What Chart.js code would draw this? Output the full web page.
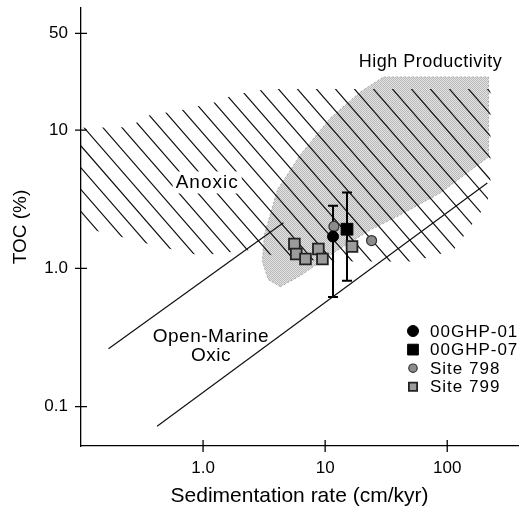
<!DOCTYPE html>
<html>
<head>
<meta charset="utf-8">
<script src="https://cdn.jsdelivr.net/npm/chart.js@4.4.1/dist/chart.umd.min.js"></script>
<style>
  html, body { margin: 0; padding: 0; background: #fff; }
  #wrap { width: 520px; height: 510px; }
</style>
</head>
<body>
<div id="wrap"><canvas id="tocChart" width="520" height="510"></canvas></div>
<script>
// Axis ticks
const xTicks = [1, 10, 100];
const xTickLabels = ["1.0", "10", "100"];
const yTicks = [0.1, 1, 10, 50];
const yTickLabels = ["0.1", "1.0", "10", "50"];

// Samples: sedimentation rate (cm/kyr) vs TOC (%)
const ghp01 = [{ x: 11.6, y: 1.7 }];
const ghp07 = [{ x: 15.1, y: 1.92 }];
const site798 = [{ x: 11.8, y: 2.01 }, { x: 24, y: 1.59 }];
const site799 = [
  { x: 5.6, y: 1.5 },
  { x: 5.8, y: 1.27 },
  { x: 6.9, y: 1.17 },
  { x: 8.8, y: 1.38 },
  { x: 9.5, y: 1.17 },
  { x: 16.6, y: 1.44 },
];

// TOC ranges [rate, low, high]
const ghp01Range = [[11.6, 0.62, 2.84]];
const ghp07Range = [[15.1, 0.815, 3.54]];

// Field boundaries [rate, TOC]
const oxicUpper = [{ x: 0.168, y: 0.262 }, { x: 4.55, y: 2.14 }];
const oxicLower = [{ x: 0.42, y: 0.0723 }, { x: 213, y: 4.14 }];
const anoxicField = [
  [0.1, 10.4], [0.244, 10.5], [0.384, 13.1], [0.571, 13.5], [1.39, 16.2],
  [1.74, 17.9], [3.37, 19.8], [226, 19.8], [226, 4.36], [214, 2.98],
  [113, 1.36], [53, 1.12], [11, 1.12], [4.56, 1.19], [2.44, 1.36],
  [0.95, 1.24], [0.407, 1.46], [0.158, 1.81], [0.1, 1.97],
];
const productivityField = [
  [4.3, 0.738], [3.43, 0.829], [3.06, 1.12], [3.18, 1.75], [4.06, 3.7],
  [6.27, 6.62], [11, 12.2], [19.5, 18.9], [30, 24.2], [218, 24.2],
  [218, 6.4], [88.1, 3.52], [41.4, 2.44], [23.5, 1.9], [11.7, 1.3],
  [6.27, 0.886],
];

// Field names and where they sit [rate, TOC]
const fieldLabels = [
  { text: "High Productivity", at: [73, 31.2], box: false },
  { text: "Anoxic", at: [1.08, 4.18], box: true },
  { text: "Open-Marine", at: [1.16, 0.323], box: false },
  { text: "Oxic", at: [1.16, 0.234], box: false },
];

const FONT = '"Liberation Sans", Arial, sans-serif';

function toPx(chart, p) {
  return [chart.scales.x.getPixelForValue(p[0]), chart.scales.y.getPixelForValue(p[1])];
}

function tracePolygon(chart, pts) {
  const ctx = chart.ctx;
  ctx.beginPath();
  pts.forEach((p, i) => {
    const [px, py] = toPx(chart, p);
    if (i === 0) ctx.moveTo(px, py);
    else ctx.lineTo(px, py);
  });
  ctx.closePath();
}

// fine checker, reads as a flat stippled grey
function stipple(ctx, dark, light) {
  const c = document.createElement("canvas");
  c.width = 2;
  c.height = 2;
  const p = c.getContext("2d");
  p.fillStyle = light;
  p.fillRect(0, 0, 2, 2);
  p.fillStyle = dark;
  p.fillRect(0, 0, 1, 1);
  p.fillRect(1, 1, 1, 1);
  return ctx.createPattern(c, "repeat");
}

function drawRanges(chart, ranges) {
  const ctx = chart.ctx;
  ranges.forEach((r) => {
    const [px, top] = toPx(chart, [r[0], r[2]]);
    const bottom = chart.scales.y.getPixelForValue(r[1]);
    ctx.beginPath();
    ctx.moveTo(px, top);
    ctx.lineTo(px, bottom);
    ctx.moveTo(px - 5, top);
    ctx.lineTo(px + 5, top);
    ctx.moveTo(px - 5, bottom);
    ctx.lineTo(px + 5, bottom);
    ctx.stroke();
  });
}

const fieldsPlugin = {
  id: "fields",
  beforeDatasetsDraw(chart) {
    const ctx = chart.ctx;
    const area = chart.chartArea;

    // High productivity field: stippled grey with dotted outline
    ctx.save();
    tracePolygon(chart, productivityField);
    ctx.fillStyle = stipple(ctx, "#bababa", "#e2e2e2");
    ctx.fill();
    ctx.setLineDash([2, 2]);
    ctx.strokeStyle = "#a8a8a8";
    ctx.lineWidth = 1;
    ctx.stroke();
    ctx.restore();

    // Anoxic field: diagonal hatch
    ctx.save();
    tracePolygon(chart, anoxicField);
    ctx.clip();
    ctx.strokeStyle = "#111";
    ctx.lineWidth = 1.2;
    ctx.beginPath();
    const run = area.bottom - area.top;
    for (let x0 = area.left - 500; x0 < area.right; x0 += 19) {
      ctx.moveTo(x0, area.top);
      ctx.lineTo(x0 + run / 1.15, area.bottom);
    }
    ctx.stroke();
    ctx.restore();

    // field names
    ctx.save();
    ctx.fillStyle = "#000";
    ctx.textAlign = "center";
    ctx.textBaseline = "middle";
    fieldLabels.forEach((l) => {
      const [px, py] = toPx(chart, l.at);
      ctx.font = l.text === "High Productivity" ? "18px " + FONT : "19px " + FONT;
      ctx.letterSpacing = l.text === "Anoxic" ? "1px" : "0.5px";
      if (l.box) {
        const w = ctx.measureText(l.text).width;
        ctx.fillStyle = "#fff";
        ctx.fillRect(px - w / 2 - 3, py - 11, w + 6, 22);
        ctx.fillStyle = "#000";
      }
      ctx.fillText(l.text, px, py);
    });
    ctx.restore();

    // TOC ranges
    ctx.save();
    ctx.strokeStyle = "#000";
    ctx.lineWidth = 2;
    drawRanges(chart, ghp01Range);
    drawRanges(chart, ghp07Range);
    ctx.restore();
  },
  afterDraw(chart) {
    const ctx = chart.ctx;
    const area = chart.chartArea;
    // crossing tick marks
    ctx.save();
    ctx.strokeStyle = "#000";
    ctx.lineWidth = 1.3;
    ctx.beginPath();
    xTicks.forEach((v) => {
      const px = chart.scales.x.getPixelForValue(v);
      ctx.moveTo(px, area.bottom - 6);
      ctx.lineTo(px, area.bottom + 6);
    });
    yTicks.forEach((v) => {
      const py = chart.scales.y.getPixelForValue(v);
      ctx.moveTo(area.left - 6, py);
      ctx.lineTo(area.left + 6, py);
    });
    ctx.stroke();

    // legend
    const rows = chart.data.datasets.filter((d) => d.legendRadius);
    ctx.font = "17px " + FONT;
    ctx.letterSpacing = "1px";
    ctx.textAlign = "left";
    ctx.textBaseline = "middle";
    rows.forEach((d, i) => {
      const y = 331 + i * 18.6;
      ctx.fillStyle = d.backgroundColor;
      ctx.strokeStyle = d.borderColor;
      ctx.lineWidth = d.borderWidth;
      Chart.helpers.drawPoint(ctx, {
        pointStyle: d.pointStyle,
        radius: d.legendRadius,
        borderWidth: d.borderWidth,
        rotation: 0,
      }, 413, y);
      ctx.fillStyle = "#000";
      ctx.fillText(d.label, 430, y + 1);
    });
    ctx.restore();
  },
};

new Chart(document.getElementById("tocChart"), {
  type: "scatter",
  data: {
    datasets: [
      {
        label: "00GHP-01",
        data: ghp01,
        pointStyle: "circle",
        pointRadius: 5.5,
        legendRadius: 5.5,
        backgroundColor: "#000",
        borderColor: "#000",
        borderWidth: 1,
        order: 1,
      },
      {
        label: "00GHP-07",
        data: ghp07,
        pointStyle: "rect",
        pointRadius: 8.3,
        legendRadius: 7.6,
        backgroundColor: "#000",
        borderColor: "#000",
        borderWidth: 1,
        order: 2,
      },
      {
        label: "Site 798",
        data: site798,
        pointStyle: "circle",
        pointRadius: 5,
        legendRadius: 4.2,
        backgroundColor: "#8c8c8c",
        borderColor: "#333",
        borderWidth: 1.2,
        order: 3,
      },
      {
        label: "Site 799",
        data: site799,
        pointStyle: "rect",
        pointRadius: 7.6,
        legendRadius: 5.8,
        backgroundColor: "#9c9c9c",
        borderColor: "#222",
        borderWidth: 1.8,
        order: 4,
      },
      {
        label: "oxic upper",
        data: oxicUpper,
        showLine: true,
        pointRadius: 0,
        borderColor: "#111",
        borderWidth: 1.2,
        order: 5,
      },
      {
        label: "oxic lower",
        data: oxicLower,
        showLine: true,
        pointRadius: 0,
        borderColor: "#111",
        borderWidth: 1.2,
        order: 5,
      },
    ],
  },
  options: {
    responsive: false,
    animation: false,
    layout: { autoPadding: false, padding: { top: 8, right: 2, left: 0, bottom: 0 } },
    plugins: {
      legend: { display: false },
      tooltip: { enabled: false },
    },
    scales: {
      x: {
        type: "logarithmic",
        min: 0.1,
        max: 380,
        bounds: "data",
        afterBuildTicks: (s) => { s.ticks = xTicks.map((v) => ({ value: v })); },
        afterFit: (s) => {
          s.height = 64;
          s.paddingLeft = 0;
          s.paddingRight = 0;
        },
        grid: { display: false, drawTicks: false },
        border: { display: true, color: "#000", width: 1.3 },
        ticks: {
          autoSkip: false,
          maxRotation: 0,
          padding: 12,
          color: "#000",
          font: { family: FONT, size: 17 },
          callback: (v, i) => xTickLabels[i],
        },
        title: {
          display: true,
          text: "Sedimentation rate (cm/kyr)",
          color: "#000",
          font: { family: FONT, size: 21 },
          padding: { top: 0, bottom: 1 },
        },
      },
      y: {
        type: "logarithmic",
        min: 0.052,
        max: 76.3,
        bounds: "data",
        afterBuildTicks: (s) => { s.ticks = yTicks.map((v) => ({ value: v })); },
        afterFit: (s) => {
          s.width = 81;
          s.paddingTop = 0;
          s.paddingBottom = 0;
        },
        grid: { display: false, drawTicks: false },
        border: { display: true, color: "#000", width: 1.3 },
        ticks: {
          autoSkip: false,
          padding: 13,
          color: "#000",
          font: { family: FONT, size: 17 },
          callback: (v, i) => yTickLabels[i],
        },
        title: {
          display: true,
          text: "TOC (%)",
          color: "#000",
          font: { family: FONT, size: 19 },
          padding: { top: 9, bottom: 0 },
        },
      },
    },
  },
  plugins: [fieldsPlugin],
});
</script>
</body>
</html>
